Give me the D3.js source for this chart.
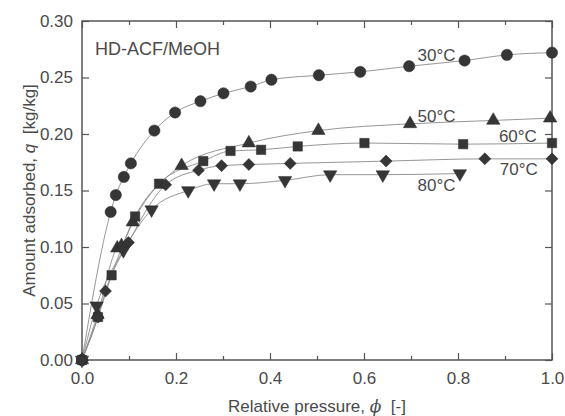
<!DOCTYPE html>
<html>
<head>
<meta charset="utf-8">
<script src="https://cdn.jsdelivr.net/npm/d3@7"></script>
<style>
  body { margin: 0; background: #fff; }
  svg { display: block; font-family: "Liberation Sans", Arial, sans-serif; }
</style>
</head>
<body>
<div class="chart-container"></div>
<script>
// adsorption isotherms, HD-ACF / methanol
const phi30 = [0, 0.061, 0.072, 0.089, 0.104, 0.154, 0.198, 0.252, 0.301, 0.359, 0.403, 0.504, 0.592, 0.696, 0.814, 0.904, 1.0];
const q30   = [0, 0.131, 0.146, 0.162, 0.174, 0.203, 0.219, 0.229, 0.236, 0.242, 0.248, 0.252, 0.255, 0.260, 0.265, 0.270, 0.272];

const phi50 = [0, 0.033, 0.075, 0.084, 0.108, 0.212, 0.355, 0.503, 0.698, 0.875, 0.996];
const q50   = [0, 0.040, 0.099, 0.101, 0.122, 0.172, 0.192, 0.203, 0.209, 0.212, 0.214];

const phi60 = [0, 0.034, 0.063, 0.113, 0.164, 0.258, 0.316, 0.381, 0.459, 0.601, 0.811, 1.0];
const q60   = [0, 0.038, 0.075, 0.127, 0.156, 0.176, 0.185, 0.186, 0.189, 0.192, 0.191, 0.192];

const phi70 = [0, 0.034, 0.050, 0.099, 0.178, 0.248, 0.297, 0.355, 0.443, 0.647, 0.857, 1.0];
const q70   = [0, 0.038, 0.061, 0.104, 0.155, 0.168, 0.172, 0.173, 0.174, 0.176, 0.178, 0.178];

const phi80 = [0, 0.031, 0.088, 0.148, 0.226, 0.281, 0.336, 0.432, 0.528, 0.640, 0.804];
const q80   = [0, 0.048, 0.097, 0.133, 0.150, 0.156, 0.156, 0.159, 0.164, 0.164, 0.165];

const xTicks = [0, 0.2, 0.4, 0.6, 0.8, 1.0];
const xMinorTicks = [0.1, 0.3, 0.5, 0.7, 0.9];
const yTicks = [0, 0.05, 0.10, 0.15, 0.20, 0.25, 0.30];

const seriesLabels = ["30\u00B0C", "50\u00B0C", "60\u00B0C", "70\u00B0C", "80\u00B0C"];
// label anchors in data units (phi, q)
const labelPhi = [0.714, 0.714, 0.887, 0.889, 0.714];
const labelQ   = [0.265, 0.211, 0.193, 0.164, 0.150];

const width = 565, height = 416;
const margin = {top: 21, right: 13, bottom: 56, left: 82};
const w = width - margin.left - margin.right;
const h = height - margin.top - margin.bottom;

const axisColor = "#555";
const textColor = "#4a4a4a";
const markColor = "#363636";
const lineColor = "#8a8a8a";

const xScale = d3.scaleLinear().domain([0, 1]).range([0, w]);
const yScale = d3.scaleLinear().domain([0, 0.30]).range([h, 0]);

const svg = d3.select(".chart-container")
  .append("svg")
  .attr("width", width)
  .attr("height", height);

const g = svg.append("g")
  .attr("transform", "translate(" + margin.left + "," + margin.top + ")");

function zip(xs, ys) {
  return xs.map((x, i) => ({x: x, y: ys[i]}));
}

const series = [
  {name: seriesLabels[0], pts: zip(phi30, q30), shape: "circle"},
  {name: seriesLabels[1], pts: zip(phi50, q50), shape: "triangle"},
  {name: seriesLabels[2], pts: zip(phi60, q60), shape: "square"},
  {name: seriesLabels[3], pts: zip(phi70, q70), shape: "diamond"},
  {name: seriesLabels[4], pts: zip(phi80, q80), shape: "down"}
];

// axes (ticks point inward on all four sides)
function styleAxis(sel) {
  sel.select(".domain").remove();
  sel.selectAll(".tick line").attr("stroke", axisColor).attr("stroke-width", 1.2);
  sel.selectAll("text").attr("fill", textColor).style("font-size", "17px");
}

g.append("g")
  .attr("transform", "translate(0," + h + ")")
  .call(d3.axisBottom(xScale).tickValues(xTicks).tickFormat(d3.format(".1f"))
    .tickSizeInner(-7).tickSizeOuter(0).tickPadding(12))
  .call(styleAxis);

g.append("g")
  .attr("transform", "translate(0," + h + ")")
  .call(d3.axisBottom(xScale).tickValues(xMinorTicks).tickFormat("")
    .tickSizeInner(-4).tickSizeOuter(0))
  .call(styleAxis);

g.append("g")
  .call(d3.axisTop(xScale).tickValues(xTicks).tickFormat("")
    .tickSizeInner(-7).tickSizeOuter(0))
  .call(styleAxis);

g.append("g")
  .call(d3.axisTop(xScale).tickValues(xMinorTicks).tickFormat("")
    .tickSizeInner(-4).tickSizeOuter(0))
  .call(styleAxis);

g.append("g")
  .call(d3.axisLeft(yScale).tickValues(yTicks).tickFormat(d3.format(".2f"))
    .tickSizeInner(-7).tickSizeOuter(0).tickPadding(9))
  .call(styleAxis);

g.append("g")
  .attr("transform", "translate(" + w + ",0)")
  .call(d3.axisRight(yScale).tickValues(yTicks).tickFormat("")
    .tickSizeInner(-7).tickSizeOuter(0))
  .call(styleAxis);

// frame
g.append("rect")
  .attr("width", w)
  .attr("height", h)
  .attr("fill", "none")
  .attr("stroke", axisColor)
  .attr("stroke-width", 1.5);

// smooth curves through the points
const line = d3.line()
  .x((d) => xScale(d.x))
  .y((d) => yScale(d.y))
  .curve(d3.curveMonotoneX);

g.selectAll(".iso-line")
  .data(series)
  .enter()
  .append("path")
  .attr("class", "iso-line")
  .attr("fill", "none")
  .attr("stroke", lineColor)
  .attr("stroke-width", 0.9)
  .attr("d", (s) => line(s.pts));

// markers
const symbols = {
  circle:   {type: d3.symbolCircle,   size: 100, rot: 0},
  triangle: {type: d3.symbolTriangle, size: 78,  rot: 0},
  square:   {type: d3.symbolSquare,   size: 88,  rot: 0},
  diamond:  {type: d3.symbolSquare,   size: 72,  rot: 45},
  down:     {type: d3.symbolTriangle, size: 78,  rot: 180}
};

series.forEach((s) => {
  const sym = symbols[s.shape];
  g.append("g")
    .selectAll("path")
    .data(s.pts)
    .enter()
    .append("path")
    .attr("d", d3.symbol().type(sym.type).size(sym.size))
    .attr("transform", (d) => "translate(" + xScale(d.x) + "," + yScale(d.y) + ") rotate(" + sym.rot + ")")
    .attr("fill", markColor)
    .attr("stroke", "#2a2a2a")
    .attr("stroke-width", 0.5);
});

// temperature labels
g.selectAll(".temp-label")
  .data(seriesLabels)
  .enter()
  .append("text")
  .attr("class", "temp-label")
  .attr("x", (d, i) => xScale(labelPhi[i]))
  .attr("y", (d, i) => yScale(labelQ[i]))
  .attr("fill", textColor)
  .style("font-size", "17px")
  .text((d) => d);

g.append("text")
  .attr("x", 13)
  .attr("y", 34)
  .attr("fill", textColor)
  .style("font-size", "18px")
  .text("HD-ACF/MeOH");

// axis titles
const xTitle = svg.append("text")
  .attr("x", margin.left + w / 2)
  .attr("y", 412)
  .attr("text-anchor", "middle")
  .attr("fill", textColor)
  .style("font-size", "17px")
  .style("white-space", "pre");
xTitle.append("tspan").text("Relative pressure, ");
xTitle.append("tspan").style("font-style", "italic").style("font-family", "DejaVu Serif").text("\u03D5");
xTitle.append("tspan").text("  [-]");

const yTitle = svg.append("text")
  .attr("transform", "translate(35," + (margin.top + h / 2) + ") rotate(-90)")
  .attr("text-anchor", "middle")
  .attr("fill", textColor)
  .style("font-size", "17px")
  .style("white-space", "pre");
yTitle.append("tspan").text("Amount adsorbed, ");
yTitle.append("tspan").style("font-style", "italic").text("q");
yTitle.append("tspan").text("  [kg/kg]");
</script>
</body>
</html>
